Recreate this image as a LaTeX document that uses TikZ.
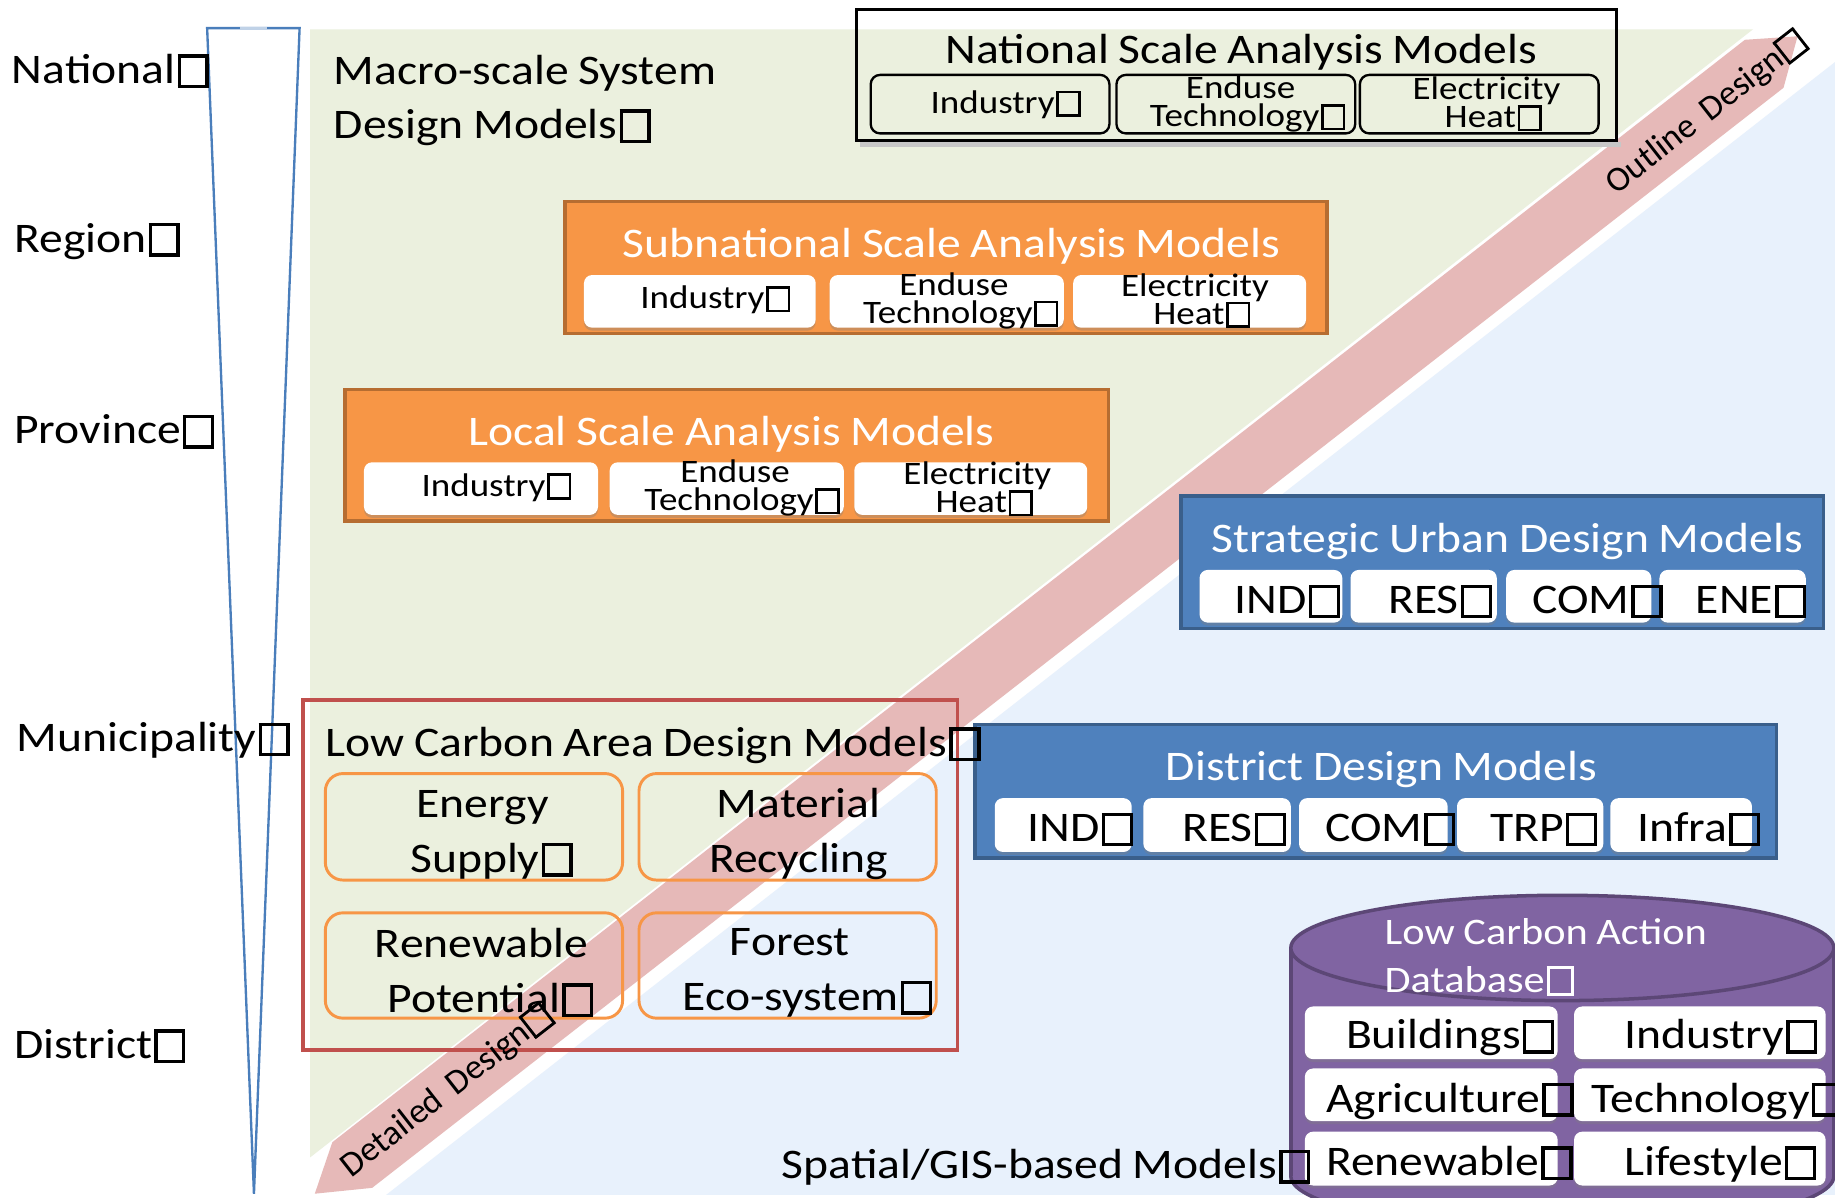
\documentclass[tikz,border=0pt]{standalone}
\usepackage{fontspec}
\setmainfont[FakeStretch=1.13]{Carlito}
\newfontfamily\plainfont{Carlito}
\usetikzlibrary{shadows}
\definecolor{bgG}{HTML}{EBF0DE}
\definecolor{bgB}{HTML}{E8F1FC}
\definecolor{bandC}{HTML}{E6B9B8}
\definecolor{orgF}{HTML}{F79646}
\definecolor{orgD}{HTML}{B66D31}
\definecolor{bluF}{HTML}{4F81BD}
\definecolor{bluD}{HTML}{3A5F8B}
\definecolor{purF}{HTML}{8064A2}
\definecolor{purD}{HTML}{5C4776}
\definecolor{redB}{HTML}{C0504D}
\definecolor{funC}{HTML}{4A7EBB}
\newcommand\bx{\kern0.05em\begingroup\setlength\fboxsep{0pt}\setlength\fboxrule{0.08em}\raisebox{-0.03em}{\fbox{\rule{0pt}{0.64em}\rule{0.58em}{0pt}}}\endgroup}
\newcommand\sq{\hphantom{\rule{0.42em}{1pt}}}
\newcommand\fsz[2]{\fontsize{#1}{#2}\selectfont\spaceskip=0.23em\relax}
\begin{document}
\begin{tikzpicture}[x=1pt,y=-1pt,
  sz/.style 2 args={minimum width=#1pt, minimum height=#2pt, inner sep=0pt},
  lab/.style={inner sep=0pt, font=\fsz{36}{40}, text=black, anchor=west, text height=29.5pt, text depth=6.8pt},
  ttl/.style={inner sep=0pt, font=\fsz{36}{40}, text=white, anchor=west, text height=29.5pt, text depth=6.8pt},
  two/.style={inner sep=0pt, font=\fsz{28}{24}, align=center, text=black},
  one/.style={inner sep=0pt, font=\fsz{28}{24}, text=black, anchor=west, text height=23pt, text depth=5.3pt},
  big/.style={inner sep=0pt, font=\fsz{36}{47}, align=center, text=black},
  natbox/.style={draw=black, line width=2.5pt},
  natsub/.style={draw=black, line width=2pt, rounded corners=8pt},
  orgbox/.style={fill=orgF, draw=orgD, line width=3pt},
  blubox/.style={fill=bluF, draw=bluD, line width=3pt},
  wsub/.style={fill=white, rounded corners=7pt, drop shadow={shadow xshift=0pt, shadow yshift=-2.5pt, opacity=0.35}},
  lcbox/.style={draw=redB, line width=3pt},
  lcsub/.style={draw=orgF, line width=2.5pt, rounded corners=15pt},
  bandtxt/.style={inner sep=0pt, font=\plainfont\fontsize{30}{34}\selectfont, text=black, rotate=38}
]
\useasboundingbox (0,0) rectangle (1568,1023);
\fill[white] (0,0) rectangle (1568,1023);
% background zones
\fill[bgG] (265,25) -- (1498,25) -- (265,989) -- cycle;
\fill[bgB] (330,1021) -- (1568,1021) -- (1568,53) -- cycle;
% diagonal band
\fill[bandC] (284,976) -- (269,1020) -- (318,1015) -- (1524,75) -- (1536,31) -- (1491,34) -- cycle;
% funnel
\draw[funC, line width=2pt, fill=white, line join=miter] (177,24) -- (256,24) -- (217,1020) -- cycle;
\draw[funC!35, line width=2pt] (205,24) -- (228,24);
% left scale labels
\node[lab] (lnat) at (10,60) {National\bx};
\node[lab] (lreg) at (12,204) {Region\bx};
\node[lab] (lpro) at (12,368) {Province\bx};
\node[lab] (lmun) at (14,631) {Municipality\bx};
\node[lab] (ldis) at (12,893) {District\bx};
\node[inner sep=0pt, anchor=west, align=left, font=\fsz{36}{46}] (macro) at (285,86) {Macro-scale System\sq\\Design Models\bx};
% national box
\node[natbox, sz={649}{112}] (nat) at (1056.5,64) {};
\fill[black!22] ([xshift=4pt]nat.south west) rectangle ([xshift=3pt,yshift=-4pt]nat.south east);
\node[lab] (natt) at (808,43) {National Scale Analysis Models\sq};
\node[natsub, sz={204}{50}] (nat1) at (846,89) {};
\node[natsub, sz={204}{50}] (nat2) at (1056,89) {};
\node[natsub, sz={204}{50}] (nat3) at (1264,89) {};
\node[one] (nat1t) at (795,88) {Industry\bx};
\node[two] (nat2t) at (1066,89) {Enduse\sq\\Technology\bx};
\node[two] (nat3t) at (1276,89) {Electricity\sq\\Heat\bx};
% subnational box
\node[orgbox, sz={651}{113}] (sub) at (808.5,228.5) {};
\node[ttl] (subt) at (532,209) {Subnational Scale Analysis Models\sq};
\node[wsub, sz={198}{45}] (sub1) at (598,257.5) {};
\node[wsub, sz={200}{45}] (sub2) at (809,257.5) {};
\node[wsub, sz={199}{45}] (sub3) at (1016.5,257.5) {};
\node[one] (sub1t) at (547,255) {Industry\bx};
\node[two] (sub2t) at (821,257) {Enduse\sq\\Technology\bx};
\node[two] (sub3t) at (1027,257) {Electricity\sq\\Heat\bx};
% local box
\node[orgbox, sz={652}{112}] (loc) at (621,389) {};
\node[ttl] (loct) at (400,369) {Local Scale Analysis Models\sq};
\node[wsub, sz={200}{45}] (loc1) at (411,417.5) {};
\node[wsub, sz={200}{45}] (loc2) at (621,417.5) {};
\node[wsub, sz={199}{45}] (loc3) at (829.5,417.5) {};
\node[one] (loc1t) at (360,415) {Industry\bx};
\node[two] (loc2t) at (634,417) {Enduse\sq\\Technology\bx};
\node[two] (loc3t) at (841,418) {Electricity\sq\\Heat\bx};
% strategic urban design
\node[blubox, sz={549}{113}] (str) at (1283.5,480.5) {};
\node[ttl] (strt) at (1035,461) {Strategic Urban Design Models\sq};
\node[wsub, sz={122}{45}] (str1) at (1086,509.5) {};
\node[wsub, sz={125}{45}] (str2) at (1216.5,509.5) {};
\node[wsub, sz={124}{45}] (str3) at (1349,509.5) {};
\node[wsub, sz={125}{45}] (str4) at (1480.5,509.5) {};
\node[lab] (str1t) at (1055,513) {IND\bx};
\node[lab] (str2t) at (1186,513) {RES\bx};
\node[lab] (str3t) at (1309,513) {COM\bx};
\node[lab] (str4t) at (1449,513) {ENE\bx};
% district design
\node[blubox, sz={685}{114}] (dis) at (1175.5,676) {};
\node[ttl] (dist) at (996,656) {District Design Models\sq};
\node[wsub, sz={117}{46}] (dis1) at (908.5,705) {};
\node[wsub, sz={126}{46}] (dis2) at (1040,705) {};
\node[wsub, sz={127}{46}] (dis3) at (1173.5,705) {};
\node[wsub, sz={125}{46}] (dis4) at (1307.5,705) {};
\node[wsub, sz={121}{46}] (dis5) at (1436.5,705) {};
\node[lab] (dis1t) at (878,708) {IND\bx};
\node[lab] (dis2t) at (1010,708) {RES\bx};
\node[lab] (dis3t) at (1132,708) {COM\bx};
\node[lab] (dis4t) at (1273,708) {TRP\bx};
\node[lab] (dis5t) at (1399,708) {Infra\bx};
% low carbon area design
\node[lcbox, sz={559}{299}] (lca) at (538.5,747.5) {};
\node[lab] (lcat) at (278,635) {Low Carbon Area Design Models\bx};
\node[lcsub, sz={254}{91}] (lca1) at (405,706.5) {};
\node[lcsub, sz={254}{91}] (lca2) at (673,706.5) {};
\node[lcsub, sz={254}{90}] (lca3) at (405,825) {};
\node[lcsub, sz={254}{90}] (lca4) at (673,825) {};
\node[big] (lca1t) at (420,713) {Energy\sq\\Supply\bx};
\node[big] (lca2t) at (690,713) {Material\sq\\Recycling\sq};
\node[big] (lca3t) at (419,831) {Renewable\sq\\Potential\bx};
\node[big] (lca4t) at (690,831) {Forest\sq\sq\\Eco-system\bx};
% database cylinder
\begin{scope}
\clip (0,0) rectangle (1568,1023);
\filldraw[fill=purF, draw=purD, line width=3pt] (1335,1005) ellipse [x radius=232pt, y radius=45pt];
\fill[purF] (1103,810) rectangle (1567,1005);
\draw[purD, line width=3pt] (1103,810) -- (1103,1005);
\draw[purD, line width=3pt] (1567,810) -- (1567,1005);
\filldraw[fill=purF, draw=purD, line width=3pt] (1335,810) ellipse [x radius=232pt, y radius=45pt];
\node[inner sep=0pt, anchor=west, align=left, text=white, font=\fsz{32}{41}] (dbt) at (1183,818) {Low Carbon Action\sq\\Database\bx};
\node[wsub, sz={216}{45}] (db1) at (1223,882.5) {};
\node[wsub, sz={215}{45}] (db2) at (1452.5,882.5) {};
\node[wsub, sz={216}{45}] (db3) at (1223,935.5) {};
\node[wsub, sz={215}{45}] (db4) at (1452.5,935.5) {};
\node[wsub, sz={216}{46}] (db5) at (1223,990) {};
\node[wsub, sz={215}{46}] (db6) at (1452.5,990) {};
\node[lab] (db1t) at (1150,885) {Buildings\bx};
\node[lab] (db2t) at (1388,885) {Industry\bx};
\node[lab] (db3t) at (1133,939) {Agriculture\bx};
\node[lab] (db4t) at (1360,939) {Technology\bx};
\node[lab] (db5t) at (1133,993) {Renewable\bx};
\node[lab] (db6t) at (1388,993) {Lifestyle\bx};
\end{scope}
% spatial label
\node[lab] (spat) at (668,996) {Spatial/GIS-based Models\bx};
% band labels
\node[bandtxt] (outl) at (1458,97) {Outline\hspace{0.4em}Design\bx};
\node[bandtxt] (detl) at (382,933) {Detailed\hspace{0.4em}Design\bx};
\end{tikzpicture}
\end{document}
